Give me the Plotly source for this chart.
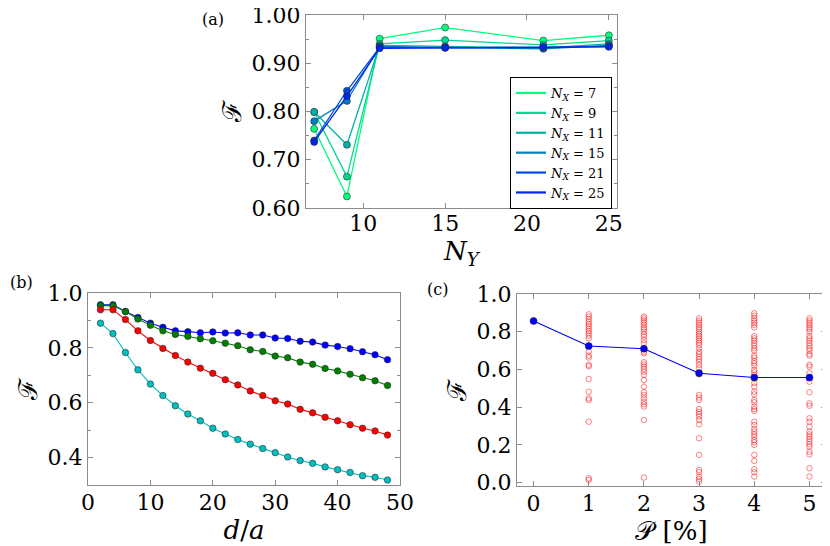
import plotly.graph_objects as go

# ---- panel (a): fidelity vs N_Y for several N_X
ny = [7, 9, 11, 15, 21, 25]
nx_labels = [7, 9, 11, 15, 21, 25]
fa_7 = [0.764, 0.624, 0.951, 0.974, 0.947, 0.958]
fa_9 = [0.799, 0.665, 0.940, 0.948, 0.938, 0.947]
fa_11 = [0.799, 0.731, 0.937, 0.935, 0.932, 0.940]
fa_15 = [0.780, 0.822, 0.935, 0.933, 0.930, 0.937]
fa_21 = [0.740, 0.843, 0.933, 0.932, 0.933, 0.935]
fa_25 = [0.737, 0.832, 0.931, 0.932, 0.934, 0.934]
fa_all = [fa_7, fa_9, fa_11, fa_15, fa_21, fa_25]

# ---- panel (b): fidelity vs d/a
d_over_a = [2, 4, 6, 8, 10, 12, 14, 16, 18, 20, 22, 24, 26, 28, 30, 32, 34, 36, 38, 40, 42, 44, 46, 48]
fb_blue = [0.957, 0.957, 0.933, 0.911, 0.890, 0.875, 0.862, 0.859, 0.855, 0.858, 0.854, 0.855,
           0.847, 0.847, 0.836, 0.834, 0.824, 0.821, 0.810, 0.805, 0.797, 0.786, 0.775, 0.757]
fb_green = [0.954, 0.954, 0.932, 0.905, 0.882, 0.862, 0.849, 0.842, 0.833, 0.826, 0.817, 0.808,
            0.793, 0.787, 0.770, 0.764, 0.748, 0.740, 0.725, 0.716, 0.704, 0.691, 0.680, 0.663]
fb_red = [0.939, 0.939, 0.903, 0.862, 0.827, 0.798, 0.772, 0.748, 0.726, 0.707, 0.684, 0.665,
          0.643, 0.626, 0.607, 0.595, 0.576, 0.563, 0.547, 0.534, 0.520, 0.507, 0.497, 0.482]
fb_cyan = [0.890, 0.852, 0.783, 0.720, 0.668, 0.626, 0.589, 0.559, 0.534, 0.507, 0.486, 0.466,
           0.449, 0.433, 0.418, 0.402, 0.389, 0.379, 0.366, 0.356, 0.346, 0.334, 0.328, 0.318]

# ---- panel (c): fidelity vs P[%], individual runs and mean
p_mean = [0, 1, 2, 3, 4, 5]
f_mean = [0.857, 0.724, 0.710, 0.580, 0.557, 0.557]
runs_p0 = [0.857]
runs_p1 = [0.892, 0.880, 0.867, 0.853, 0.841, 0.829, 0.816, 0.804, 0.792, 0.779, 0.765, 0.694,
           0.673, 0.663, 0.624, 0.617, 0.549, 0.482, 0.447, 0.438, 0.323, 0.023, 0.014]
runs_p2 = [0.880, 0.871, 0.859, 0.848, 0.836, 0.823, 0.813, 0.800, 0.786, 0.774, 0.756, 0.739,
           0.712, 0.694, 0.686, 0.638, 0.627, 0.615, 0.602, 0.588, 0.571, 0.544, 0.509, 0.479,
           0.465, 0.447, 0.429, 0.415, 0.403, 0.332, 0.027]
runs_p3 = [0.871, 0.859, 0.848, 0.836, 0.823, 0.813, 0.800, 0.788, 0.777, 0.765, 0.753, 0.742,
           0.730, 0.712, 0.694, 0.682, 0.668, 0.655, 0.641, 0.624, 0.606, 0.585, 0.574, 0.465,
           0.451, 0.438, 0.390, 0.376, 0.364, 0.350, 0.332, 0.309, 0.235, 0.147, 0.067, 0.055,
           0.032, 0.019, 0.005]
runs_p4 = [0.898, 0.885, 0.871, 0.859, 0.848, 0.836, 0.823, 0.777, 0.765, 0.753, 0.739, 0.726,
           0.712, 0.700, 0.673, 0.662, 0.645, 0.633, 0.620, 0.597, 0.585, 0.571, 0.553, 0.527,
           0.509, 0.482, 0.468, 0.438, 0.426, 0.403, 0.390, 0.380, 0.323, 0.306, 0.284, 0.270,
           0.256, 0.244, 0.226, 0.214, 0.200, 0.147, 0.115, 0.071, 0.055, 0.032]
runs_p5 = [0.871, 0.859, 0.848, 0.836, 0.823, 0.813, 0.800, 0.777, 0.765, 0.753, 0.739, 0.726,
           0.712, 0.700, 0.682, 0.673, 0.624, 0.615, 0.580, 0.553, 0.535, 0.479, 0.420, 0.408,
           0.341, 0.323, 0.297, 0.270, 0.256, 0.244, 0.231, 0.217, 0.203, 0.191, 0.164, 0.150,
           0.076, 0.032]
runs_all = [runs_p0, runs_p1, runs_p2, runs_p3, runs_p4, runs_p5]

# winter-like colours, green -> blue
a_colors = ["#00ff80", "#00d993", "#00b2a6", "#0080bf", "#004dd9", "#0026ec"]

FONT = "DejaVu Serif"
OFF = 8  # page body margin, the figure is drawn 8px in from the corner
W, H = 830 - OFF, 546 - OFF
FRAME = "#8c8c8c"
EDGE = "rgba(40,40,40,0.8)"


def px(x):
    return (x - OFF) / W


def py(y):
    return 1 - (y - OFF) / H


fig = go.Figure()

for i, fa in enumerate(fa_all):
    fig.add_trace(go.Scatter(
        x=ny, y=fa, mode="lines+markers", xaxis="x", yaxis="y", showlegend=False,
        line=dict(color=a_colors[i], width=1.3),
        marker=dict(size=7, color=a_colors[i], line=dict(color=EDGE, width=0.7)),
    ))
# legend shows line samples only
for i in range(len(fa_all)):
    fig.add_trace(go.Scatter(
        x=[None], y=[None], mode="lines", xaxis="x", yaxis="y",
        name="<i>N</i><sub><i>X</i></sub> = %d" % nx_labels[i],
        line=dict(color=a_colors[i], width=2.2),
    ))

for fb, col in [(fb_blue, "#0000ff"), (fb_green, "#008000"), (fb_red, "#ff0000"), (fb_cyan, "#00bfbf")]:
    fig.add_trace(go.Scatter(
        x=d_over_a, y=fb, mode="lines+markers", xaxis="x2", yaxis="y2", showlegend=False,
        line=dict(color=col, width=1.1),
        marker=dict(size=6.5, color=col, line=dict(color=EDGE, width=0.7)),
    ))

for p, runs in zip(p_mean, runs_all):
    fig.add_trace(go.Scatter(
        x=[p] * len(runs), y=runs, mode="markers", xaxis="x3", yaxis="y3", showlegend=False,
        marker=dict(symbol="circle-open", size=5.5, color="rgba(255,0,0,0.55)", line=dict(width=0.9)),
    ))

fig.add_trace(go.Scatter(
    x=p_mean, y=f_mean, mode="lines+markers", xaxis="x3", yaxis="y3", showlegend=False,
    line=dict(color="#0000ff", width=1.1),
    marker=dict(size=7, color="#0000ff", line=dict(color=EDGE, width=0.7)),
))


def ax(domain, rng, dtick, **kw):
    d = dict(domain=domain, range=rng, dtick=dtick, ticks="inside", ticklen=5,
             tickcolor=FRAME, showline=True, linecolor=FRAME, linewidth=1,
             mirror="ticks", showgrid=False, zeroline=False, automargin=False,
             ticklabeloverflow="allow",
             tickfont=dict(family=FONT, size=22, color="black"))
    d.update(kw)
    return d


tf = dict(family=FONT, size=26, color="black")

fig.update_layout(
    width=W, height=H,
    margin=dict(l=0, r=0, t=0, b=0),
    plot_bgcolor="white", paper_bgcolor="white",
    font=dict(family=FONT, color="black"),
    xaxis=ax([px(306), px(617)], [6.5, 25.5], 5, tick0=0, anchor="y", ticklabelstandoff=-4,
             title=dict(text="<i>N</i><sub><i>Y</i></sub>", font=tf, standoff=0)),
    yaxis=ax([py(208), py(15)], [0.6, 1.0], 0.1, tickformat=".2f", anchor="x",
             minor=dict(dtick=0.05, ticks="inside", ticklen=3, tickcolor=FRAME),
             title=dict(text="ℱ", font=tf, standoff=2)),
    xaxis2=ax([px(88), px(400)], [0, 50], 10, anchor="y2", ticklabelstandoff=-2,
              title=dict(text="<i>d</i>/<i>a</i>", font=tf, standoff=0)),
    yaxis2=ax([py(485), py(293)], [0.3, 1.0], 0.2, tick0=0, tickformat=".1f", anchor="x2",
              minor=dict(dtick=0.1, ticks="inside", ticklen=3, tickcolor=FRAME),
              title=dict(text="ℱ", font=tf, standoff=2)),
    xaxis3=ax([px(517), px(826)], [-0.3, 5.3], 1, anchor="y3", ticklabelstandoff=-2,
              title=dict(text="𝒫 [%]", font=tf, standoff=0)),
    yaxis3=ax([py(486), py(294)], [-0.018, 1.0], 0.2, tick0=0, tickformat=".1f", anchor="x3",
              title=dict(text="ℱ", font=tf, standoff=2)),
    legend=dict(x=px(612), xanchor="right", y=py(77), yanchor="top",
                bgcolor="white", bordercolor="black", borderwidth=1,
                font=dict(family=FONT, size=13, color="black"),
                tracegroupgap=0, itemwidth=30),
    annotations=[
        dict(text="(a)", x=px(200), y=1, xref="paper", yref="paper",
             xanchor="left", yanchor="top", showarrow=False, font=dict(family=FONT, size=16)),
        dict(text="(b)", x=0, y=py(271), xref="paper", yref="paper",
             xanchor="left", yanchor="top", showarrow=False, font=dict(family=FONT, size=16)),
        dict(text="(c)", x=px(425), y=py(278), xref="paper", yref="paper",
             xanchor="left", yanchor="top", showarrow=False, font=dict(family=FONT, size=16)),
    ],
)

fig.write_html("out.html")
